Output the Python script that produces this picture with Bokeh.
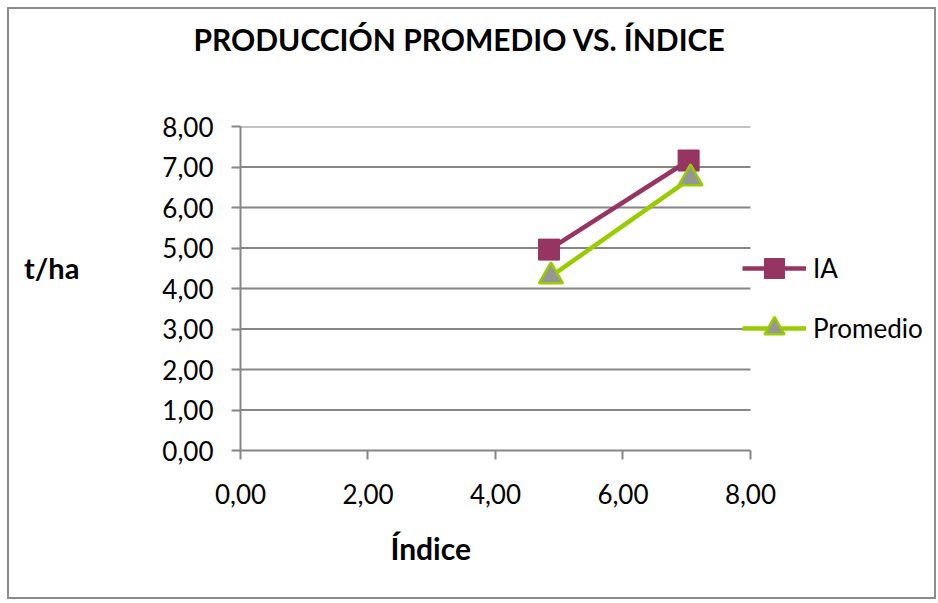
from bokeh.plotting import figure
from bokeh.models import Range1d, FixedTicker, Legend, LegendItem, Title
from bokeh.embed import file_html
from bokeh.resources import INLINE

# ---- data ----
ia_x = [4.84, 7.03]
ia_y = [4.96, 7.16]
prom_x = [4.87, 7.06]
prom_y = [4.30, 6.72]
x_ticks = [0, 2, 4, 6, 8]
x_tick_labels = ["0,00", "2,00", "4,00", "6,00", "8,00"]
y_ticks = [0, 1, 2, 3, 4, 5, 6, 7, 8]
y_tick_labels = ["0,00", "1,00", "2,00", "3,00", "4,00", "5,00", "6,00", "7,00", "8,00"]
series_names = ["IA", "Promedio"]
title_text = "PRODUCCIÓN PROMEDIO  VS. ÍNDICE"
x_label = "Índice"
y_label = "t/ha"

FONT = "Lato"
GRID = "#868686"
IA_COLOR = "#963462"
PROM_COLOR = "#99CC00"

X_MIN, X_MAX = 0, 8
# the plot frame extends to the right edge so the legend can sit beside the plot area
X_VIEW_MAX = 10.95

p = figure(width=929, height=592, output_backend="svg", toolbar_location=None,
           x_range=Range1d(X_MIN, X_VIEW_MAX), y_range=Range1d(0, 8),
           min_border_left=231, min_border_right=0, min_border_top=117, min_border_bottom=151)
p.styles = {"border": "2px solid #8c8c8c", "margin-left": "7px", "margin-top": "7px"}
p.outline_line_color = None
p.background_fill_color = "white"
p.border_fill_color = "white"

# axes
for ax in (p.xaxis[0], p.yaxis[0]):
    ax.axis_line_color = GRID
    ax.axis_line_width = 2
    ax.major_tick_line_color = GRID
    ax.major_tick_line_width = 2
    ax.major_tick_out = 9
    ax.major_tick_in = 0
    ax.minor_tick_line_color = None
    ax.major_label_text_font = FONT
    ax.major_label_text_font_size = "26px"
    ax.major_label_text_color = "black"

p.xaxis.ticker = FixedTicker(ticks=x_ticks)
p.xaxis.bounds = (X_MIN, X_MAX)
p.xaxis.major_label_overrides = {t: l for t, l in zip(x_ticks, x_tick_labels)}
p.xaxis.major_label_standoff = 24
p.yaxis.ticker = FixedTicker(ticks=y_ticks)
p.yaxis.major_label_overrides = {t: l for t, l in zip(y_ticks, y_tick_labels)}
p.yaxis.major_label_standoff = 18

# trailing empty line lifts the horizontal label slightly above the frame centre
p.yaxis.axis_label = y_label + "\n"
p.yaxis.axis_label_orientation = "horizontal"
p.yaxis.axis_label_standoff = 80
p.yaxis.axis_label_text_font = FONT
p.yaxis.axis_label_text_font_size = "29px"
p.yaxis.axis_label_text_font_style = "bold"
p.yaxis.axis_label_text_color = "black"

p.xgrid.grid_line_color = None
p.ygrid.grid_line_color = None

# horizontal gridlines limited to the x-axis extent
grid_y = y_ticks[1:]
p.segment(x0=[X_MIN] * len(grid_y), x1=[X_MAX] * len(grid_y), y0=grid_y, y1=grid_y,
          line_color=GRID, line_width=2)

# series
r1 = p.line(ia_x, ia_y, line_color=IA_COLOR, line_width=4.5)
r1m = p.scatter(ia_x, ia_y, marker="square", size=21, fill_color=IA_COLOR, line_color=IA_COLOR)
r2 = p.line(prom_x, prom_y, line_color=PROM_COLOR, line_width=4.5)
r2m = p.scatter(prom_x, prom_y, marker="triangle", size=24, fill_color="#969696",
                line_color=PROM_COLOR, line_width=2.5)

legend = Legend(items=[LegendItem(label=series_names[0], renderers=[r1, r1m]),
                       LegendItem(label=series_names[1], renderers=[r2, r2m])],
                location=(502, 97))
legend.glyph_width = 64
legend.glyph_height = 50
legend.label_height = 22
legend.spacing = 10
legend.padding = 0
legend.margin = 0
legend.label_standoff = 7
legend.border_line_color = None
legend.background_fill_alpha = 0
legend.label_text_font = FONT
legend.label_text_font_size = "26px"
legend.label_text_color = "black"
p.add_layout(legend, "center")

# chart title (spacer keeps it away from the plot area)
p.add_layout(Title(text=" ", text_font_size="10px", standoff=56), "above")
p.add_layout(Title(text=title_text, align="left", offset=-47, vertical_align="middle",
                   text_font=FONT, text_font_size="30px", text_font_style="bold",
                   text_color="black", standoff=0), "above")

# x axis title
p.add_layout(Title(text=x_label, align="left", offset=150, vertical_align="top",
                   text_font=FONT, text_font_size="30px", text_font_style="bold",
                   text_color="black", standoff=46), "below")

open("out.html", "w").write(file_html(p, INLINE))
